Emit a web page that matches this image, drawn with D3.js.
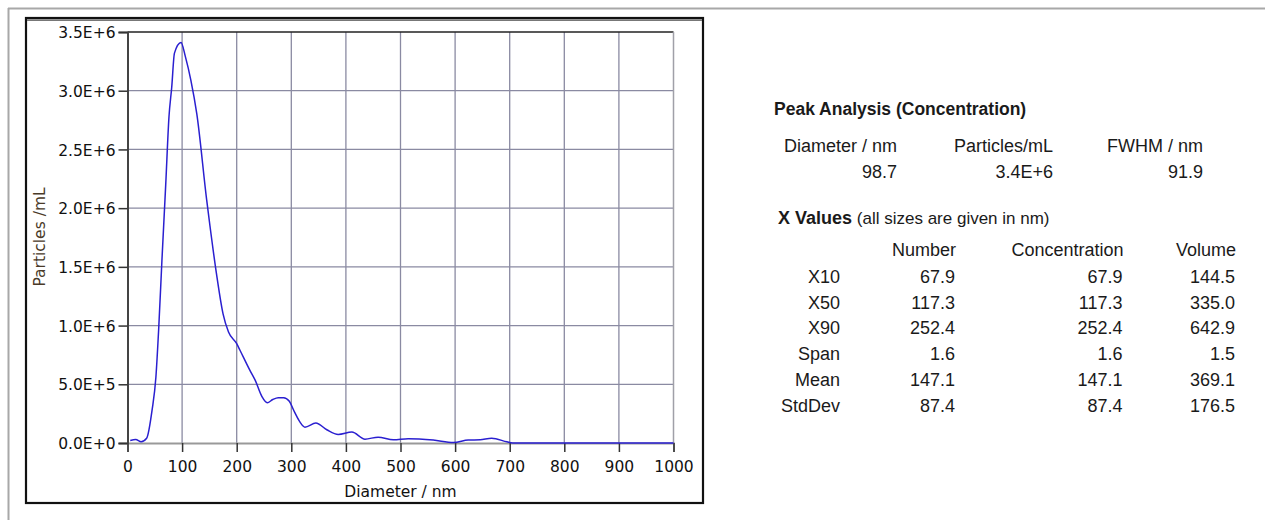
<!DOCTYPE html>
<html>
<head>
<meta charset="utf-8">
<script src="https://cdn.jsdelivr.net/npm/d3@7"></script>
<style>
  body { margin: 0; background: #fff; }
  svg { display: block; }
  .axis text { font-family: "DejaVu Sans", Verdana, sans-serif; font-size: 15.5px; fill: #111; }
  .tbl { font-family: "Liberation Sans", Arial, sans-serif; font-size: 18px; fill: #1a1a1a; }
</style>
</head>
<body>
<div id="chart"></div>
<script>
"use strict";

// size distribution (diameter in nm, particles/mL in E+6)
var diameters = [5, 15, 25, 35, 45, 52, 57, 63, 70, 76, 81, 86, 98, 106, 116, 127, 145, 151, 163, 175,
    185, 200, 206, 224, 234, 246, 256, 266, 276, 286, 296, 306, 316, 325, 345, 365, 386, 411, 435, 459,
    487, 514, 560, 597, 624, 646, 667, 695, 705, 1000];
var particles = [0.022, 0.03, 0.01, 0.04, 0.28, 0.56, 0.96, 1.55, 2.2, 2.78, 3.03, 3.32, 3.41, 3.29, 3.09, 2.80, 2.07, 1.85, 1.44, 1.10,
    0.945, 0.846, 0.79, 0.62, 0.533, 0.397, 0.343, 0.37, 0.386, 0.386, 0.357, 0.263, 0.178, 0.135, 0.17, 0.113, 0.073, 0.093, 0.033, 0.05,
    0.028, 0.037, 0.025, 0.005, 0.025, 0.028, 0.04, 0.01, 0, 0];

var xTicks = [0, 100, 200, 300, 400, 500, 600, 700, 800, 900, 1000];
var yTicks = [0, 0.5e6, 1.0e6, 1.5e6, 2.0e6, 2.5e6, 3.0e6, 3.5e6];

// peak analysis table
var peakHeaders = ["Diameter / nm", "Particles/mL", "FWHM / nm"];
var peakValues = ["98.7", "3.4E+6", "91.9"];

// x values table
var xColumns = ["Number", "Concentration", "Volume"];
var xRows = ["X10", "X50", "X90", "Span", "Mean", "StdDev"];
var numberValues = [67.9, 117.3, 252.4, 1.6, 147.1, 87.4];
var concentrationValues = [67.9, 117.3, 252.4, 1.6, 147.1, 87.4];
var volumeValues = [144.5, 335.0, 642.9, 1.5, 369.1, 176.5];

var W = 1265, H = 520;
var svg = d3.select("#chart").append("svg")
    .attr("width", W)
    .attr("height", H);

// outer panel edges (top and left only)
svg.append("line").attr("x1", 8).attr("x2", W).attr("y1", 8.5).attr("y2", 8.5)
    .attr("stroke", "#a8a8a8").attr("stroke-width", 2);
svg.append("line").attr("x1", 8.5).attr("x2", 8.5).attr("y1", 8).attr("y2", H)
    .attr("stroke", "#a8a8a8").attr("stroke-width", 2);

// chart frame
svg.append("rect").attr("x", 26).attr("y", 18).attr("width", 677).attr("height", 485)
    .attr("fill", "#fff").attr("stroke", "#111").attr("stroke-width", 2.2);
svg.append("line").attr("x1", 27).attr("x2", 702).attr("y1", 20.2).attr("y2", 20.2)
    .attr("stroke", "#777").attr("stroke-width", 1.8);

var plot = { left: 127.5, right: 673.5, top: 32, bottom: 443 };

var x = d3.scaleLinear().domain([0, 1000]).range([plot.left, plot.right]);
var y = d3.scaleLinear().domain([0, 3.5e6]).range([plot.bottom, plot.top]);

// grid
var grid = svg.append("g");
grid.selectAll(".vg")
    .data(xTicks.filter(function (d) { return d > 0 && d < 1000; }))
    .enter().append("line")
    .attr("x1", function (d) { return x(d); })
    .attr("x2", function (d) { return x(d); })
    .attr("y1", plot.top).attr("y2", plot.bottom)
    .attr("stroke", "#8a8aa2").attr("stroke-width", 1.3);
grid.selectAll(".hg")
    .data(yTicks.filter(function (d) { return d > 0 && d < 3.5e6; }))
    .enter().append("line")
    .attr("y1", function (d) { return y(d); })
    .attr("y2", function (d) { return y(d); })
    .attr("x1", plot.left).attr("x2", plot.right)
    .attr("stroke", "#8a8aa2").attr("stroke-width", 1.3);

// plot borders
svg.append("line").attr("x1", plot.left).attr("x2", plot.right).attr("y1", plot.top).attr("y2", plot.top)
    .attr("stroke", "#222").attr("stroke-width", 1.5);
svg.append("line").attr("x1", plot.right).attr("x2", plot.right).attr("y1", plot.top).attr("y2", plot.bottom)
    .attr("stroke", "#a0a0a8").attr("stroke-width", 1.5);

// axes
var fmtY = function (d) {
    if (d === 0) return "0.0E+0";
    var e = Math.floor(Math.log10(d));
    return (d / Math.pow(10, e)).toFixed(1) + "E+" + e;
};

var xAxis = svg.append("g").attr("class", "axis")
    .attr("transform", "translate(0," + plot.bottom + ")")
    .call(d3.axisBottom(x).tickValues(xTicks).tickFormat(d3.format("d")).tickSize(9).tickPadding(9));
xAxis.select(".domain").attr("stroke", "#999").attr("stroke-width", 2);
xAxis.selectAll(".tick line").attr("stroke", "#333").attr("stroke-width", 1.5);

var yAxis = svg.append("g").attr("class", "axis")
    .attr("transform", "translate(" + plot.left + ",0)")
    .call(d3.axisLeft(y).tickValues(yTicks).tickFormat(fmtY).tickSize(9).tickPadding(3));
yAxis.select(".domain").attr("stroke", "#444").attr("stroke-width", 2);
yAxis.selectAll(".tick line").attr("stroke", "#333").attr("stroke-width", 1.5);
yAxis.selectAll(".tick text").attr("dy", "0.36em");

// axis titles
svg.append("text").attr("class", "axis")
    .attr("x", (plot.left + plot.right) / 2).attr("y", 497)
    .attr("text-anchor", "middle")
    .style("font-family", "DejaVu Sans, Verdana, sans-serif").style("font-size", "15.5px").style("fill", "#111")
    .text("Diameter / nm");
svg.append("text")
    .attr("transform", "translate(45,237) rotate(-90)")
    .attr("text-anchor", "middle")
    .style("font-family", "DejaVu Sans, Verdana, sans-serif").style("font-size", "15.5px").style("fill", "#4a3a28")
    .text("Particles /mL");

// curve
var line = d3.line()
    .x(function (d, i) { return x(diameters[i]); })
    .y(function (d) { return y(d * 1e6); })
    .curve(d3.curveMonotoneX);

svg.append("path")
    .datum(particles)
    .attr("d", line)
    .attr("fill", "none")
    .attr("stroke", "#2a1fd0")
    .attr("stroke-width", 1.5);

// right hand tables
var tbl = svg.append("g").attr("class", "tbl");

tbl.append("text").attr("x", 774).attr("y", 115)
    .style("font-weight", "bold").style("font-size", "17.5px")
    .text("Peak Analysis (Concentration)");

var peakRight = [897, 1053, 1203];
tbl.selectAll(".ph").data(peakHeaders).enter().append("text")
    .attr("x", function (d, i) { return peakRight[i]; })
    .attr("y", 152).attr("text-anchor", "end")
    .text(function (d) { return d; });
tbl.selectAll(".pv").data(peakValues).enter().append("text")
    .attr("x", function (d, i) { return peakRight[i]; })
    .attr("y", 177.5).attr("text-anchor", "end")
    .text(function (d) { return d; });

var xv = tbl.append("text").attr("x", 778).attr("y", 223.5);
xv.append("tspan").style("font-weight", "bold").text("X Values");
xv.append("tspan").style("font-size", "17px").text(" (all sizes are given in nm)");

var colRight = [956, 1123.5, 1236];
tbl.selectAll(".xc").data(xColumns).enter().append("text")
    .attr("x", function (d, i) { return colRight[i]; })
    .attr("y", 256).attr("text-anchor", "end")
    .text(function (d) { return d; });

var rowY = d3.scaleLinear().domain([0, 5]).range([283, 411.5]);
var f1 = d3.format(".1f");

xRows.forEach(function (label, r) {
    var vals = [numberValues[r], concentrationValues[r], volumeValues[r]];
    tbl.append("text").attr("x", 840).attr("y", rowY(r)).attr("text-anchor", "end").text(label);
    vals.forEach(function (v, c) {
        tbl.append("text").attr("x", colRight[c] - 1).attr("y", rowY(r)).attr("text-anchor", "end").text(f1(v));
    });
});
</script>
</body>
</html>
